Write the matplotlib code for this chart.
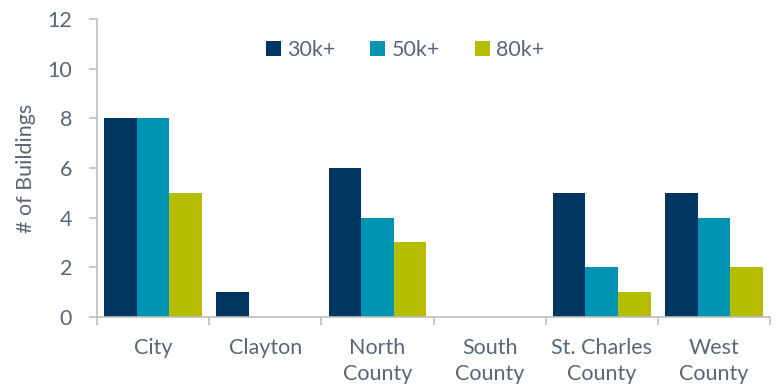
import numpy as np
import matplotlib
matplotlib.use('Agg')
import matplotlib.pyplot as plt
from matplotlib.ticker import FixedLocator

# data
categories = ['City', 'Clayton', 'North\nCounty', 'South\nCounty', 'St. Charles\nCounty', 'West\nCounty']
series_names = ['30k+', '50k+', '80k+']
vals_30k = [8, 1, 6, 0, 5, 5]
vals_50k = [8, 0, 4, 0, 2, 4]
vals_80k = [5, 0, 3, 0, 1, 2]

colors = ['#003562', '#0094b4', '#b5bd00']
text_col = '#596775'
axis_col = '#bfbfbf'

plt.rcParams['font.family'] = ['Lato', 'DejaVu Sans']

fig = plt.figure(figsize=(7.78, 3.86), dpi=100)
ax = fig.add_axes([0.1247, 0.179, 0.865, 0.772])

x = np.arange(len(categories))
w = 0.29
for i, (vals, name) in enumerate(zip([vals_30k, vals_50k, vals_80k], series_names)):
    ax.bar(x + (i - 1) * w, vals, width=w, color=colors[i], label=name)

ax.set_xlim(-0.5, len(categories) - 0.5)
ax.set_ylim(0, 12)
ax.set_yticks(range(0, 13, 2))
ax.set_xticks(x)
ax.set_xticklabels(categories, linespacing=1.4)
ax.xaxis.set_minor_locator(FixedLocator(np.arange(-0.5, len(categories), 1)))
ax.tick_params(axis='x', which='major', length=0, pad=15, labelsize=15.5, labelcolor=text_col)
ax.tick_params(axis='x', which='minor', length=6, color=axis_col, width=1.2)
ax.tick_params(axis='y', length=6, color=axis_col, width=1.2, labelsize=15.5, labelcolor=text_col, pad=12)

for s in ['top', 'right']:
    ax.spines[s].set_visible(False)
for s in ['left', 'bottom']:
    ax.spines[s].set_color(axis_col)
    ax.spines[s].set_linewidth(1.2)

ax.set_ylabel('# of Buildings', fontsize=15.5, color=text_col, labelpad=8)

leg = ax.legend(loc='upper center', bbox_to_anchor=(0.458, 0.995), ncol=3, frameon=False,
                fontsize=15.5, handlelength=0.7, handleheight=0.7, handletextpad=0.3,
                columnspacing=1.6)
for t in leg.get_texts():
    t.set_color(text_col)

fig.savefig('out.png', dpi=100)
